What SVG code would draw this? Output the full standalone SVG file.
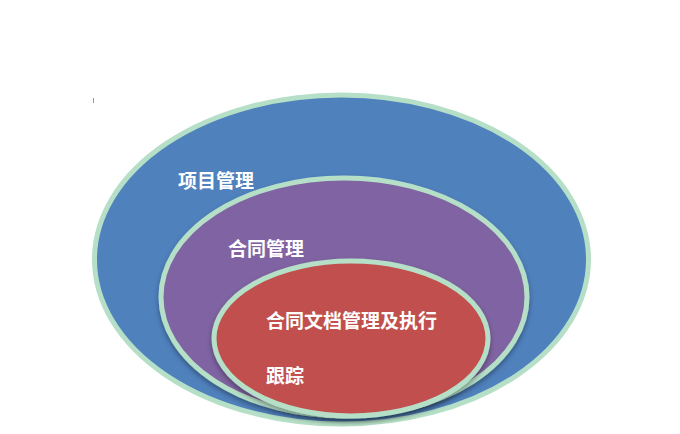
<svg xmlns="http://www.w3.org/2000/svg" width="680" height="434" viewBox="0 0 680 434">
<defs>
<style>
.ring{stroke:#b5dfc6;stroke-width:5}
.lbl{font-family:"Liberation Sans","Noto Sans CJK SC",sans-serif;font-weight:bold;fill:#ffffff;font-size:19px}
</style>
<filter id="sh" x="-10%" y="-10%" width="120%" height="125%">
<feDropShadow dx="0" dy="3" stdDeviation="2.5" flood-color="#000" flood-opacity="0.35"/>
</filter>
</defs>
<rect width="680" height="434" fill="#ffffff"/>
<line x1="93.5" y1="98" x2="93.5" y2="103" stroke="#999" stroke-width="1"/>
<g id="outer">
<ellipse class="ring" cx="341.5" cy="259.5" rx="247" ry="164.5" fill="#4f81bd"/>
<text class="lbl" x="178" y="188">项目管理</text>
</g>
<g id="middle">
<ellipse class="ring" cx="344" cy="297" rx="183" ry="119" fill="#8064a2" filter="url(#sh)"/>
<text class="lbl" x="228" y="256">合同管理</text>
</g>
<g id="inner">
<ellipse class="ring" cx="351" cy="338.5" rx="137" ry="77.5" fill="#c0504d" filter="url(#sh)"/>
<text class="lbl" x="266" y="328">合同文档管理及执行</text>
<text class="lbl" x="266" y="383">跟踪</text>
</g>
<g id="connectors"></g>
</svg>
